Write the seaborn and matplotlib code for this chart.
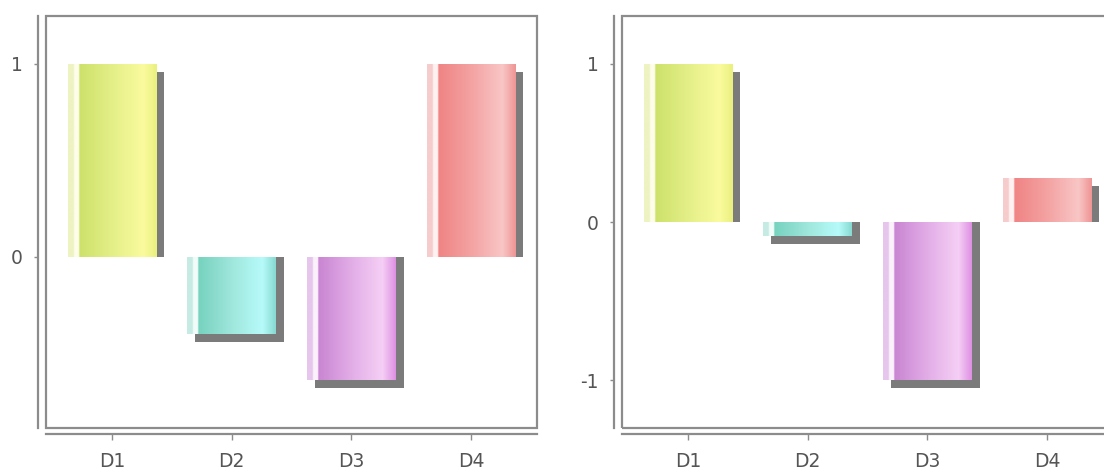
import numpy as np
import pandas as pd
import matplotlib
matplotlib.use("Agg")
import matplotlib.pyplot as plt
import matplotlib.transforms as mtransforms
from matplotlib.colors import LinearSegmentedColormap
from matplotlib.patches import Rectangle
import seaborn as sns

# ---- data -------------------------------------------------------------
categories = ["D1", "D2", "D3", "D4"]
left_values = [1.0, -0.40, -0.64, 1.0]
right_values = [1.0, -0.09, -1.0, 0.28]
yticks_left = [0, 1]
yticks_right = [-1, 0, 1]

# base colour and horizontal shading stops for each category
bar_colors = ["#dbe97a", "#8fdfd2", "#dba0e0", "#f3a0a0"]
shades = {
    "D1": ["#eef3c2", "#fdfde9", "#cde16a", "#e4ef88", "#fafb9e", "#eaf07e"],
    "D2": ["#c6ebe4", "#f1fcfa", "#76d2be", "#9fe6dc", "#b6fbfa", "#86d9d0"],
    "D3": ["#e6c6ec", "#fbf1fb", "#c985d2", "#e2ade7", "#f5cff5", "#de8fe3"],
    "D4": ["#f6cccc", "#fff1f1", "#f08484", "#f4a2a2", "#f9c6c6", "#ef9494"],
}

sns.set_style("white")
plt.rcParams["font.family"] = ["DejaVu Sans"]

GRAY = "#8c8c8c"
TEXT = "#555555"
SHADOW = "#7b7b7b"
W, H = 1104, 471
DPI = 100
SHIFT = 8 / DPI  # shadow offset, inches


def px_rect(l, t, r, b):
    return [l / W, 1 - b / H, (r - l) / W, (b - t) / H]


def shade_cmap(stops):
    pale, white, dark, mid, light, edge = stops
    return LinearSegmentedColormap.from_list(
        "shade",
        [(0.0, pale), (0.06, pale), (0.07, white), (0.12, white),
         (0.13, dark), (0.50, mid), (0.85, light), (1.0, edge)],
    )


def add_shadow(ax, fig, x0, w, ylo, yhi, positive):
    """Drop shadow to the lower right of a bar, kept on the bar's side of zero."""
    offsets = [(SHIFT, -SHIFT)] if positive else [(SHIFT, -SHIFT), (SHIFT, 0)]
    for dx, dy in offsets:
        tr = ax.transData + mtransforms.ScaledTranslation(dx, dy, fig.dpi_scale_trans)
        sh = Rectangle((x0, ylo), w, yhi - ylo, transform=tr, facecolor=SHADOW,
                       edgecolor="none", zorder=1.5)
        ax.add_patch(sh)
        if positive:
            clip = Rectangle((-10, 0), 100, 100, transform=ax.transData)
            sh.set_clip_path(clip)


def draw_panel(ax, values, yticks):
    df = pd.DataFrame({"cat": categories, "val": values})
    sns.barplot(data=df, x="cat", y="val", hue="cat", palette=bar_colors,
                order=categories, hue_order=categories, width=0.74,
                legend=False, ax=ax, saturation=1.0)

    grad = np.linspace(0, 1, 256)[None, :]
    for patch, cat in zip(list(ax.patches), categories):
        patch.set_edgecolor("none")
        patch.set_zorder(2)
        x0, y0 = patch.get_x(), patch.get_y()
        w, h = patch.get_width(), patch.get_height()
        ylo, yhi = min(y0, y0 + h), max(y0, y0 + h)
        add_shadow(ax, ax.figure, x0, w, ylo, yhi, positive=h > 0)
        im = ax.imshow(grad, cmap=shade_cmap(shades[cat]), aspect="auto",
                       extent=[x0, x0 + w, ylo, yhi], origin="lower",
                       interpolation="bilinear", zorder=2.1)
        im.set_clip_path(patch)

    lo, hi = min(min(values), 0), max(max(values), 0)
    pad = 0.15 * (hi - lo)
    ax.set_ylim(lo - pad, hi + pad)
    ax.set_xlim(-0.55, len(categories) - 0.45)
    ax.set_yticks(yticks)
    ax.set_yticklabels([str(t) for t in yticks])
    ax.set_xlabel("")
    ax.set_ylabel("")

    # detached axis lines plus a closed frame around the plotting area
    for side in ("top", "right"):
        ax.spines[side].set_visible(False)
    ax.spines["left"].set_position(("outward", 5.8))
    ax.spines["bottom"].set_position(("outward", 4.3))
    for side in ("left", "bottom"):
        ax.spines[side].set_color(GRAY)
        ax.spines[side].set_linewidth(1.6)
    ax.add_patch(Rectangle((0, 0), 1, 1, transform=ax.transAxes, fill=False,
                           edgecolor=GRAY, linewidth=1.6, clip_on=False,
                           zorder=5))
    ax.tick_params(axis="y", left=True, length=3, width=1, color=GRAY,
                   pad=8, labelsize=13.5, labelcolor=TEXT)
    ax.tick_params(axis="x", bottom=True, length=4, width=1, color=GRAY,
                   pad=9, labelsize=13.5, labelcolor=TEXT)
    ax.grid(False)
    ax.set_facecolor("white")


fig = plt.figure(figsize=(W / DPI, H / DPI), dpi=DPI)
ax_left = fig.add_axes(px_rect(46, 16, 537, 428))
ax_right = fig.add_axes(px_rect(622, 16, 1113, 428))

draw_panel(ax_left, left_values, yticks_left)
draw_panel(ax_right, right_values, yticks_right)

fig.savefig("out.png", dpi=DPI, facecolor="white")
